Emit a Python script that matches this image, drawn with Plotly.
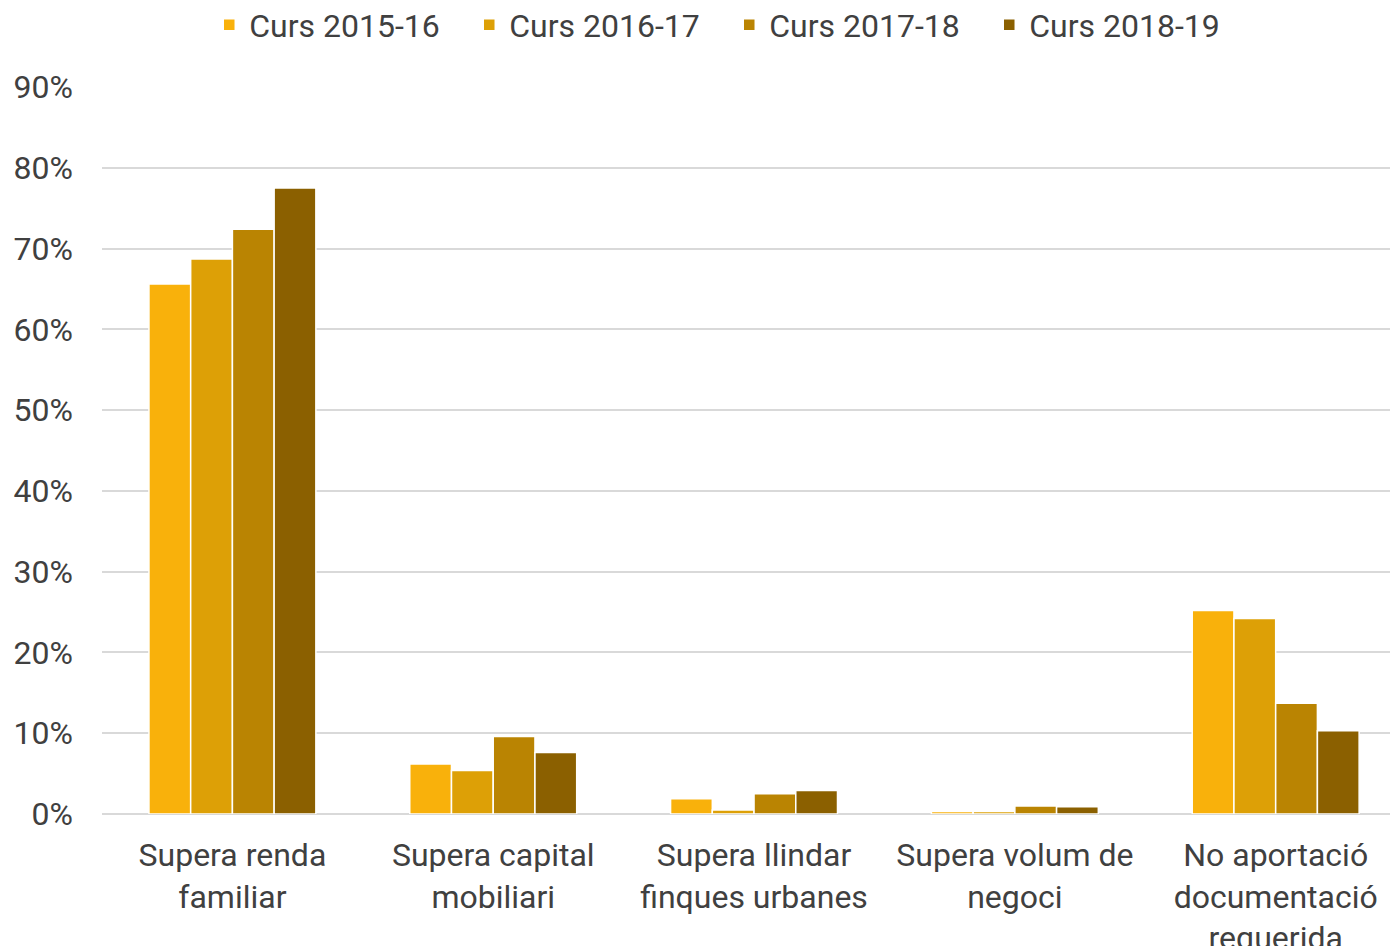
import plotly.graph_objects as go

categories = ["Supera renda<br>familiar", "Supera capital<br>mobiliari",
              "Supera llindar<br>finques urbanes", "Supera volum de<br>negoci",
              "No aportació<br>documentació<br>requerida"]
series_names = ["Curs 2015-16", "Curs 2016-17", "Curs 2017-18", "Curs 2018-19"]
v_2015_16 = [0.656, 0.062, 0.019, 0.003, 0.252]
v_2016_17 = [0.687, 0.054, 0.005, 0.003, 0.242]
v_2017_18 = [0.724, 0.096, 0.025, 0.010, 0.137]
v_2018_19 = [0.775, 0.076, 0.029, 0.009, 0.103]
colors = ["#F9B10B", "#DDA006", "#BA8402", "#8B6000"]
y_ticks = [0, 0.1, 0.2, 0.3, 0.4, 0.5, 0.6, 0.7, 0.8, 0.9]

fig = go.Figure()
for name, vals, col in zip(series_names, [v_2015_16, v_2016_17, v_2017_18, v_2018_19], colors):
    fig.add_trace(go.Bar(x=categories, y=vals, name=name,
                         marker=dict(color=col, line=dict(color="white", width=1.5))))

font = "Roboto"
fs = 32
fig.update_layout(
    width=1390, height=938,
    margin=dict(l=94, r=0, t=79, b=132, autoexpand=False),
    paper_bgcolor="white", plot_bgcolor="white",
    barmode="group", bargap=0.36, bargroupgap=0,
    font=dict(family=font, size=fs, color="#404040"),
    legend=dict(orientation="h", x=0.484, xanchor="center",
                y=1 - 17 / 938, yanchor="middle", yref="container",
                entrywidth=215, entrywidthmode="pixels",
                font=dict(size=fs, color="#404040"), traceorder="normal",
                itemwidth=30),
    xaxis=dict(range=[-0.5, 4.469], showgrid=False, showline=False, automargin=False,
               ticks="", ticklabelstandoff=19, tickfont=dict(size=fs, color="#404040")),
    yaxis=dict(range=[0, 0.9], tickvals=y_ticks, tickformat=".0%", automargin=False,
               showgrid=True, gridcolor="#D9D9D9", gridwidth=1.5,
               zeroline=True, zerolinecolor="#D9D9D9", zerolinewidth=2,
               ticks="", ticklabelstandoff=28, tickfont=dict(size=fs, color="#404040")),
)

fig.write_html("out.html")
